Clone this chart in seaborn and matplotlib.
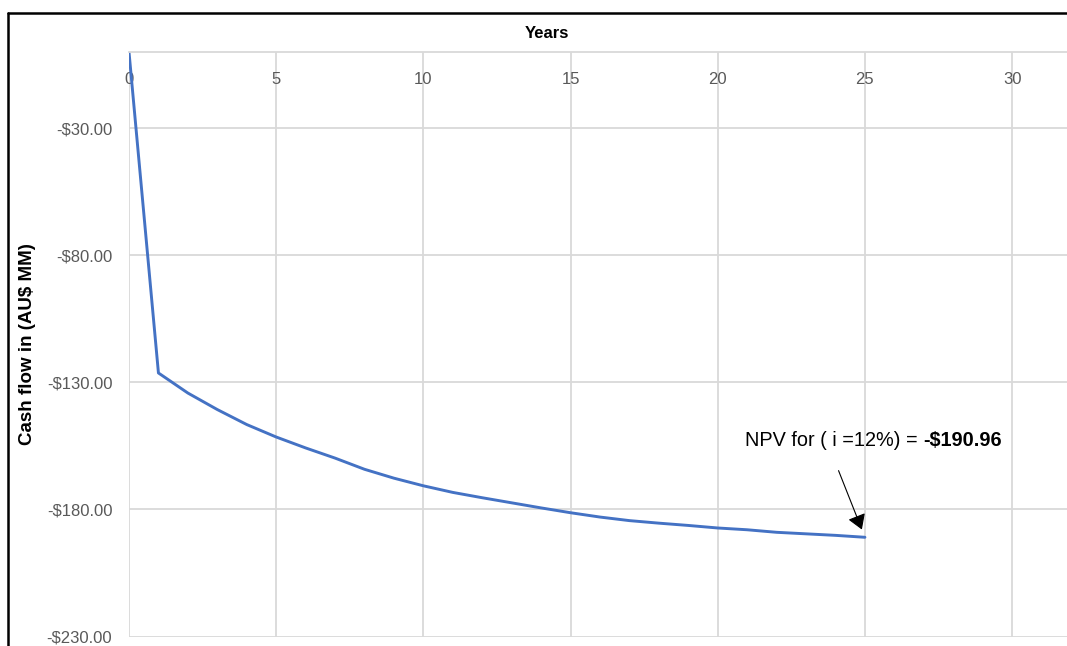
import matplotlib
matplotlib.use("Agg")
import matplotlib.pyplot as plt
from matplotlib.lines import Line2D
from matplotlib.ticker import FixedLocator, FuncFormatter
import seaborn as sns
import pandas as pd

# Cumulative discounted cash flow by project year (AU$ MM)
years = list(range(0, 26))
cum_npv = [0.0, -126.3, -134.2, -140.7, -146.6, -151.5, -155.8, -159.8, -164.2,
           -167.7, -170.7, -173.3, -175.4, -177.4, -179.4, -181.3, -183.0,
           -184.4, -185.4, -186.3, -187.3, -188.0, -189.0, -189.6, -190.2, -190.96]
x_ticks = [0, 5, 10, 15, 20, 25, 30]
y_ticks = [-230, -180, -130, -80, -30]
npv_label = "NPV for ( i =12%) = "
npv_value = "-\\$190.96"

df = pd.DataFrame({"Year": years, "NPV": cum_npv})

sns.set_theme(style="white")
plt.rcParams["font.family"] = ["Liberation Sans", "DejaVu Sans"]

W, H = 1067, 646
fig = plt.figure(figsize=(W / 100, H / 100), dpi=100)
ax = fig.add_axes([129 / W, 1 - 636.5 / H, (1071 - 129) / W, (636.5 - 52) / H])

sns.lineplot(data=df, x="Year", y="NPV", ax=ax, color="#4472C4", linewidth=2.1)

ax.set_xlim(0, 32)
ax.set_ylim(-230, 0)
ax.xaxis.set_major_locator(FixedLocator(x_ticks))
ax.yaxis.set_major_locator(FixedLocator(y_ticks))
ax.yaxis.set_major_formatter(FuncFormatter(lambda v, p: "-$%.2f" % abs(v)))

grid_c = "#d9d9d9"
ax.grid(True, color=grid_c, linewidth=1.3)
ax.set_axisbelow(True)
for side in ["left", "right", "bottom"]:
    ax.spines[side].set_visible(False)
ax.spines["top"].set_color(grid_c)
ax.spines["top"].set_linewidth(1.3)

ax.tick_params(axis="x", top=True, labeltop=True, bottom=False, labelbottom=False,
               length=0, pad=-25, labelsize=12, labelcolor="#595959")
ax.tick_params(axis="y", length=0, pad=12, labelsize=12, labelcolor="#595959")

ax.set_xlabel("")
ax.set_ylabel("Cash flow in (AU$ MM)", fontsize=13.5, fontweight="bold",
              color="black")
ax.yaxis.set_label_coords(-(129 - 36) / (1071 - 129), 0.5)
fig.text(547 / W, 1 - 33 / H, "Years", ha="center", va="center",
         fontsize=12, fontweight="bold", color="black")

# Annotation pointing at the final cumulative value
end = (years[-1], cum_npv[-1])
ax.annotate("", xy=end, xytext=(-19, 48), textcoords="offset points",
            arrowprops=dict(arrowstyle="-|>,head_length=0.45,head_width=0.28",
                            color="black", lw=0.8,
                            mutation_scale=20, shrinkA=0, shrinkB=6))
t1 = ax.annotate(npv_label, xy=end, xytext=(-86, 66), textcoords="offset points",
                 ha="left", va="baseline", fontsize=14.3, color="black")
ax.annotate(npv_value, xy=(1, 0), xycoords=t1, ha="left", va="bottom",
            fontsize=14.3, fontweight="bold", color="black")

# Outer frame on the left and top edges
fig.add_artist(Line2D([8 / W, 8 / W], [0, 1 - 13 / H], transform=fig.transFigure,
                      color="black", linewidth=1.8))
fig.add_artist(Line2D([8 / W, 1], [1 - 13 / H, 1 - 13 / H], transform=fig.transFigure,
                      color="black", linewidth=1.8))

fig.savefig("out.png", dpi=100)
